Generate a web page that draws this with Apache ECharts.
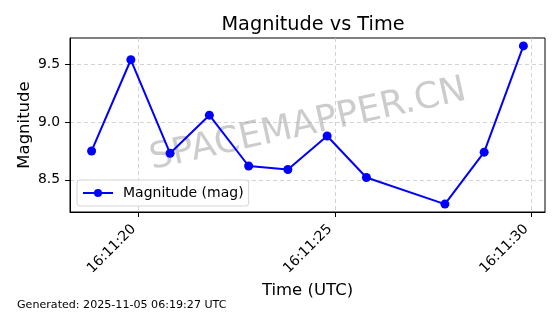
<!DOCTYPE html>
<html>
<head>
<meta charset="utf-8">
<script src="https://cdn.jsdelivr.net/npm/echarts@6/dist/echarts.min.js"></script>
<style>
html,body{margin:0;padding:0;background:#fff;}
#chart{width:560px;height:314px;}
</style>
</head>
<body>
<div id="chart"></div>
<script>
// ---- data ----
const times = ['16:11:18.8','16:11:19.8','16:11:20.8','16:11:21.8','16:11:22.8','16:11:23.8','16:11:24.8','16:11:25.8','16:11:27.8','16:11:28.8','16:11:29.8'];
const magnitudes = [8.75, 9.54, 8.73, 9.06, 8.62, 8.59, 8.88, 8.52, 8.29, 8.74, 9.66];
const xTickLabels = ['16:11:20','16:11:25','16:11:30'];
const yTickValues = [8.5, 9.0, 9.5];
const seriesName = 'Magnitude (mag)';
const titleText = 'Magnitude vs Time';
const xLabel = 'Time (UTC)';
const yLabel = 'Magnitude';
const watermark = 'SPACEMAPPER.CN';
const footer = 'Generated: 2025-11-05 06:19:27 UTC';

function toSec(s){const p=s.split(':');return (+p[0])*3600+(+p[1])*60+(+p[2]);}
function fmt(v){v=Math.round(v);const h=Math.floor(v/3600),m=Math.floor((v%3600)/60),s=v%60;const z=n=>String(n).padStart(2,'0');return z(h)+':'+z(m)+':'+z(s);}

const xs = times.map(toSec);
const pts = xs.map((x,i)=>[x,magnitudes[i]]);
const xMinD = Math.min(...xs), xMaxD = Math.max(...xs);
const yMinD = Math.min(...magnitudes), yMaxD = Math.max(...magnitudes);
const xm = (xMaxD-xMinD)*0.05, ym = (yMaxD-yMinD)*0.05;
const xTickVals = xTickLabels.map(toSec);

const FONT = 'DejaVu Sans';
const chart = echarts.init(document.getElementById('chart'), null, {renderer:'canvas'});
chart.setOption({
  animation:false,
  backgroundColor:'#fff',
  textStyle:{fontFamily:FONT},
  title:{
    text:titleText, left:308, textAlign:'center', top:10,
    textStyle:{fontFamily:FONT, fontSize:19.3, fontWeight:'normal', color:'#000'}
  },
  grid:{left:70, right:15, top:38, bottom:102, show:true, borderColor:'#000', borderWidth:1, backgroundColor:'transparent'},
  xAxis:{
    type:'value', min:xMinD-xm, max:xMaxD+xm,
    name:xLabel, nameLocation:'middle', nameGap:70, nameMoveOverlap:false,
    nameTextStyle:{fontFamily:FONT, fontSize:16.5, color:'#000'},
    axisLine:{show:true, lineStyle:{color:'#000', width:1}},
    axisTick:{show:true, length:5, lineStyle:{color:'#000', width:1}, customValues:xTickVals},
    axisLabel:{show:true, rotate:45, fontFamily:FONT, fontSize:13.9, color:'#000', margin:10, padding:[0,7,0,0], customValues:xTickVals, formatter:v=>fmt(v)},
    splitLine:{show:true, lineStyle:{color:'#c8c8c8', type:[4,3], width:0.8}}
  },
  yAxis:{
    type:'value', min:yMinD-ym, max:yMaxD+ym,
    name:yLabel, nameLocation:'middle', nameGap:36.5, nameMoveOverlap:false,
    nameTextStyle:{fontFamily:FONT, fontSize:16.5, color:'#000'},
    axisLine:{show:true, lineStyle:{color:'#000', width:1}},
    axisTick:{show:true, length:5, lineStyle:{color:'#000', width:1}, customValues:yTickValues},
    axisLabel:{show:true, fontFamily:FONT, fontSize:13.9, color:'#000', margin:10, customValues:yTickValues, formatter:v=>v.toFixed(1)},
    splitLine:{show:true, lineStyle:{color:'#c8c8c8', type:[4,3], width:0.8}}
  },
  legend:{
    left:77, top:180, orient:'horizontal',
    data:[seriesName],
    itemWidth:30, itemHeight:10, itemGap:6,
    padding:[6,5,6,5],
    borderColor:'#d5d5d5', borderWidth:1, borderRadius:3,
    backgroundColor:'rgba(255,255,255,0.85)',
    textStyle:{fontFamily:FONT, fontSize:14, color:'#000', padding:[0,0,0,5]}
  },
  graphic:[
    {type:'text', x:308, y:125, rotation:12.5*Math.PI/180, z:1, silent:true,
     style:{text:watermark, fontFamily:FONT, fontSize:36, fill:'rgba(128,128,128,0.4)', align:'center', verticalAlign:'middle'}},
    {type:'text', left:17, top:300,
     style:{text:footer, fontFamily:FONT, fontSize:11.1, fill:'#000'}}
  ],
  series:[{
    name:seriesName, type:'line', data:pts, z:5,
    symbol:'circle', symbolSize:9,
    lineStyle:{color:'#0000ff', width:2},
    itemStyle:{color:'#0000ff'}
  }]
});
</script>
</body>
</html>
